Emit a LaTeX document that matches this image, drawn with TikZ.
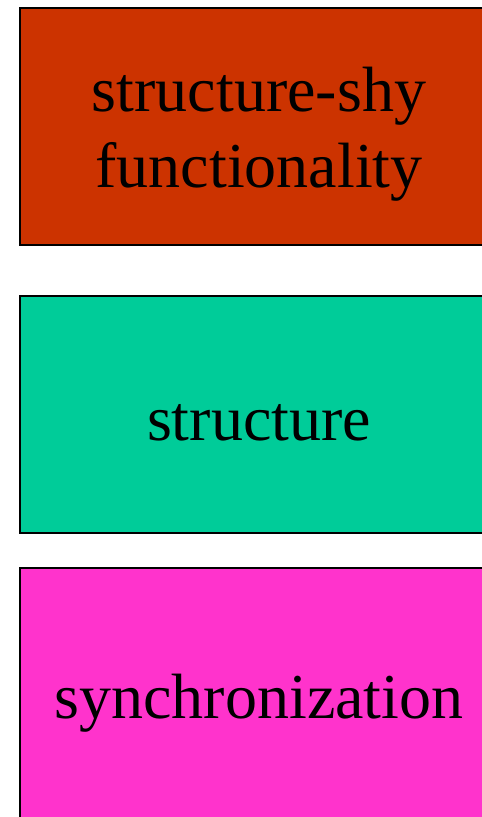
\documentclass[tikz,border=0pt]{standalone}
\usepackage{fontspec}
\setmainfont{Liberation Serif}
\definecolor{rust}{HTML}{CC3300}
\definecolor{teal}{HTML}{00CC99}
\definecolor{pink}{HTML}{FF33CC}
\begin{document}
\begin{tikzpicture}[x=1pt,y=-1pt,
  block/.style={draw=black, line width=2pt, anchor=north west,
    minimum width=478pt, inner sep=0pt},
  caption/.style={inner sep=0pt, align=center, yshift=-8pt,
    font=\fontsize{64}{76}\selectfont}]
\useasboundingbox (0,0) rectangle (482,817);
\clip (0,0) rectangle (482,817);
\node[block, fill=rust, minimum height=237pt] (shy) at (19,7) {};
\node[block, fill=teal, minimum height=237pt] (struct) at (19,295) {};
\node[block, fill=pink, minimum height=254pt] (sync) at (19,567) {};
\node[caption] (shytext) at (shy.center) {structure-shy\\functionality};
\node[caption] (structtext) at (struct.center) {structure};
\node[caption] (synctext) at (sync.center) {synchronization};
\end{tikzpicture}
\end{document}
